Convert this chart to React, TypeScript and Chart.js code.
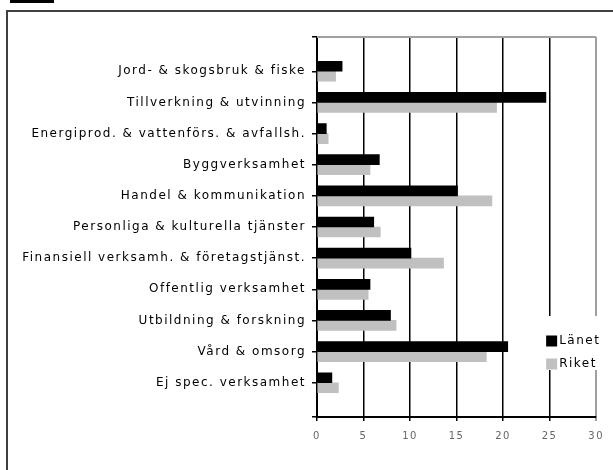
import React, { useEffect, useRef } from 'react';
import { Chart, registerables } from 'chart.js';

Chart.register(...registerables);

const categories = [
  'Jord- & skogsbruk & fiske',
  'Tillverkning & utvinning',
  'Energiprod. & vattenförs. & avfallsh.',
  'Byggverksamhet',
  'Handel & kommunikation',
  'Personliga & kulturella tjänster',
  'Finansiell verksamh. & företagstjänst.',
  'Offentlig verksamhet',
  'Utbildning & forskning',
  'Vård & omsorg',
  'Ej spec. verksamhet',
];
const lanet = [2.7, 24.6, 1.0, 6.7, 15.1, 6.1, 10.1, 5.7, 7.9, 20.5, 1.6];
const riket = [2.0, 19.3, 1.2, 5.7, 18.8, 6.8, 13.6, 5.5, 8.5, 18.2, 2.3];
const seriesNames = ['Länet', 'Riket'];
const seriesColors = ['#000000', '#c0c0c0'];
const xTicks = [0, 5, 10, 15, 20, 25, 30];

const FONT = 'DejaVu Sans';
const SPACING = '1.5px';

const spacingPlugin = {
  id: 'spacing',
  beforeUpdate(chart: any) {
    chart.ctx.letterSpacing = SPACING;
  },
  beforeDraw(chart: any) {
    chart.ctx.letterSpacing = SPACING;
  },
};

const frameLines = {
  id: 'frameLines',
  afterDatasetsDraw(chart: any) {
    const { ctx, chartArea } = chart;
    ctx.save();
    ctx.strokeStyle = '#a0a0a0';
    ctx.lineWidth = 2;
    ctx.beginPath();
    ctx.moveTo(chartArea.left, chartArea.top);
    ctx.lineTo(chartArea.right, chartArea.top);
    ctx.stroke();
    ctx.restore();
  },
};

const boxLegend = {
  id: 'boxLegend',
  afterDraw(chart: any) {
    const { ctx, chartArea } = chart;
    const x0 = chartArea.right - 57;
    const y0 = chartArea.bottom - 101;
    ctx.save();
    ctx.fillStyle = '#ffffff';
    ctx.fillRect(x0, y0, 74, 54);
    ctx.font = `12px "${FONT}"`;
    ctx.textBaseline = 'middle';
    chart.data.datasets.forEach((ds: any, i: number) => {
      const cy = y0 + 25 + i * 23;
      ctx.fillStyle = ds.backgroundColor;
      ctx.fillRect(x0 + 7, cy - 5.5, 11, 11);
      ctx.fillStyle = '#000';
      ctx.fillText(ds.label, x0 + 20, cy);
    });
    ctx.restore();
  },
};

export default function App() {
  const ref = useRef<HTMLCanvasElement>(null);
  useEffect(() => {
    if (!ref.current) return;
    const chart = new Chart(ref.current, {
      type: 'bar',
      data: {
        datasets: [lanet, riket].map((arr, s) => ({
          label: seriesNames[s],
          data: arr.map((v, i) => ({ x: v, y: i + 1 })),
          backgroundColor: seriesColors[s],
          barThickness: 10,
        })),
      },
      options: {
        indexAxis: 'y',
        responsive: false,
        animation: false,
        layout: { padding: { top: 37, right: 16, left: 0, bottom: 0 } },
        plugins: { legend: { display: false }, tooltip: { enabled: false } },
        scales: {
          x: {
            type: 'linear',
            position: 'bottom',
            min: 0,
            max: 30,
            afterBuildTicks: (s: any) => {
              s.ticks = xTicks.map((v) => ({ value: v }));
            },
            afterFit: (s: any) => {
              s.height = 53;
            },
            grid: {
              color: (c: any) => (c.tick && c.tick.value === 30 ? '#a0a0a0' : '#000'),
              lineWidth: (c: any) => (c.tick && c.tick.value === 30 ? 2 : 1.5),
              tickLength: 4,
            },
            border: { color: '#000', width: 2 },
            ticks: {
              font: { family: FONT, size: 10 },
              color: '#666',
              padding: 9,
              maxRotation: 0,
            },
          },
          y: {
            type: 'linear',
            reverse: true,
            offset: false,
            min: -0.1,
            max: 12.1,
            afterBuildTicks: (s: any) => {
              s.ticks = [-0.1, ...categories.map((_, i) => i + 1), 12.1].map((v) => ({ value: v }));
            },
            afterFit: (s: any) => {
              s.width = 317;
            },
            grid: { offset: false, drawOnChartArea: false, color: '#000', tickLength: 5, lineWidth: 1.5 },
            border: { color: '#000', width: 2 },
            ticks: {
              autoSkip: false,
              font: { family: FONT, size: 12 },
              color: '#000',
              padding: 6,
              callback: (v: any) => (Number.isInteger(v) && categories[v - 1]) || '',
            },
          },
        },
      } as any,
      plugins: [spacingPlugin, frameLines, boxLegend],
    });
    return () => chart.destroy();
  }, []);

  return (
    <div style={{ position: 'fixed', left: 0, top: 0, width: 613, height: 470, overflow: 'hidden', background: '#fff' }}>
      <div style={{ position: 'absolute', left: 10, top: 0, width: 44, height: 3, background: '#000' }} />
      <div
        style={{
          position: 'absolute',
          left: 6,
          top: 10,
          width: 700,
          height: 600,
          border: '2px solid #404040',
        }}
      />
      <canvas ref={ref} width={613} height={470} style={{ position: 'absolute', left: 0, top: 0 }} />
    </div>
  );
}
